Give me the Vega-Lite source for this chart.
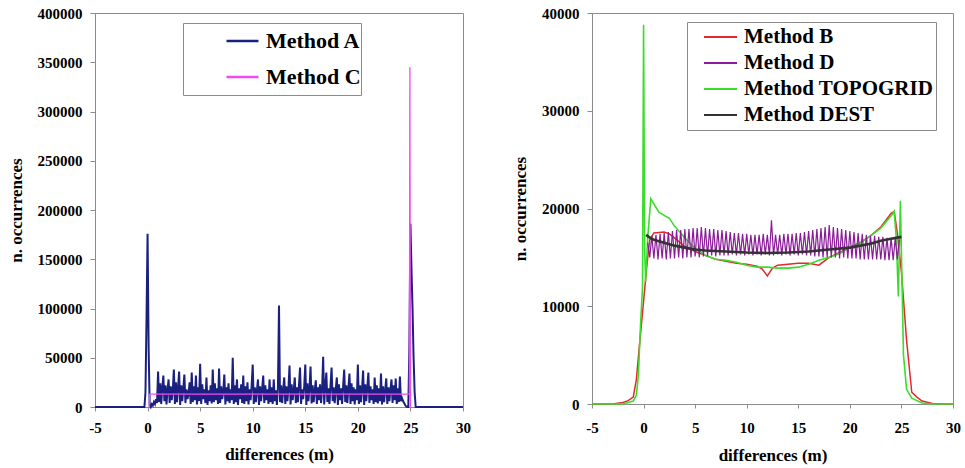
{
"$schema":"https://vega.github.io/schema/vega-lite/v6.json",
"padding":{"left":6,"top":5,"right":2,"bottom":3},
"background":"white",
"config":{"view":{"stroke":"#8c8c8c","strokeWidth":1},
"axis":{"grid":false,"labelFont":"Liberation Serif","labelFontWeight":"bold","labelFontSize":15,"labelColor":"#000","titleFont":"Liberation Serif","titleFontWeight":"bold","titleFontSize":17,"titleColor":"#000","domainColor":"#8c8c8c","tickColor":"#8c8c8c","labelFlush":false,"labelOverlap":false}},
"resolve":{"scale":{"color":"independent"},"legend":{"color":"independent"}},
"spacing":40,
"datasets":{
"pa":[
{"m":"A","x":-5,"y":0},{"m":"A","x":-0.3,"y":0},{"m":"A","x":-0.2,"y":15000},{"m":"A","x":-0.1,"y":90000},{"m":"A","x":0,"y":176000},{"m":"A","x":0.1,"y":60000},{"m":"A","x":0.2,"y":2000},{"m":"A","x":0.3,"y":0},{"m":"A","x":0.4,"y":3000},{"m":"A","x":0.5,"y":1500},{"m":"A","x":0.6,"y":5000},{"m":"A","x":0.7,"y":3000},{"m":"A","x":0.8,"y":8000},{"m":"A","x":0.9,"y":4000},
{"m":"A","x":1.0,"y":36000},{"m":"A","x":1.1,"y":5000},{"m":"A","x":1.2,"y":24000},{"m":"A","x":1.3,"y":3000},{"m":"A","x":1.4,"y":20000},{"m":"A","x":1.5,"y":32000},{"m":"A","x":1.6,"y":6000},{"m":"A","x":1.7,"y":22000},{"m":"A","x":1.8,"y":2500},{"m":"A","x":1.9,"y":18000},
{"m":"A","x":2.0,"y":28000},{"m":"A","x":2.1,"y":4000},{"m":"A","x":2.2,"y":21000},{"m":"A","x":2.3,"y":7000},{"m":"A","x":2.4,"y":17000},{"m":"A","x":2.5,"y":38000},{"m":"A","x":2.6,"y":3000},{"m":"A","x":2.7,"y":25000},{"m":"A","x":2.8,"y":5000},{"m":"A","x":2.9,"y":20000},
{"m":"A","x":3.0,"y":36000},{"m":"A","x":3.1,"y":2000},{"m":"A","x":3.2,"y":22000},{"m":"A","x":3.3,"y":6000},{"m":"A","x":3.4,"y":19000},{"m":"A","x":3.5,"y":33000},{"m":"A","x":3.6,"y":4000},{"m":"A","x":3.7,"y":18000},{"m":"A","x":3.8,"y":8000},{"m":"A","x":3.9,"y":14000},
{"m":"A","x":4.0,"y":25000},{"m":"A","x":4.1,"y":3000},{"m":"A","x":4.2,"y":35000},{"m":"A","x":4.3,"y":5000},{"m":"A","x":4.4,"y":21000},{"m":"A","x":4.5,"y":7000},{"m":"A","x":4.6,"y":32000},{"m":"A","x":4.7,"y":2500},{"m":"A","x":4.8,"y":20000},{"m":"A","x":4.9,"y":6000},
{"m":"A","x":5.0,"y":44000},{"m":"A","x":5.1,"y":3000},{"m":"A","x":5.2,"y":23000},{"m":"A","x":5.3,"y":8000},{"m":"A","x":5.4,"y":18000},{"m":"A","x":5.5,"y":4000},{"m":"A","x":5.6,"y":30000},{"m":"A","x":5.7,"y":2000},{"m":"A","x":5.8,"y":17000},{"m":"A","x":5.9,"y":6000},
{"m":"A","x":6.0,"y":22000},{"m":"A","x":6.1,"y":3500},{"m":"A","x":6.2,"y":38000},{"m":"A","x":6.3,"y":5000},{"m":"A","x":6.4,"y":24000},{"m":"A","x":6.5,"y":7000},{"m":"A","x":6.6,"y":19000},{"m":"A","x":6.7,"y":3000},{"m":"A","x":6.8,"y":39000},{"m":"A","x":6.9,"y":4000},
{"m":"A","x":7.0,"y":21000},{"m":"A","x":7.1,"y":8000},{"m":"A","x":7.2,"y":16000},{"m":"A","x":7.3,"y":33000},{"m":"A","x":7.4,"y":2500},{"m":"A","x":7.5,"y":20000},{"m":"A","x":7.6,"y":6000},{"m":"A","x":7.7,"y":24000},{"m":"A","x":7.8,"y":4000},{"m":"A","x":7.9,"y":18000},
{"m":"A","x":8.0,"y":7000},{"m":"A","x":8.1,"y":50000},{"m":"A","x":8.2,"y":3000},{"m":"A","x":8.3,"y":22000},{"m":"A","x":8.4,"y":5000},{"m":"A","x":8.5,"y":28000},{"m":"A","x":8.6,"y":2000},{"m":"A","x":8.7,"y":19000},{"m":"A","x":8.8,"y":8000},{"m":"A","x":8.9,"y":23000},
{"m":"A","x":9.0,"y":4000},{"m":"A","x":9.1,"y":32000},{"m":"A","x":9.2,"y":3000},{"m":"A","x":9.3,"y":21000},{"m":"A","x":9.4,"y":6000},{"m":"A","x":9.5,"y":25000},{"m":"A","x":9.6,"y":2500},{"m":"A","x":9.7,"y":18000},{"m":"A","x":9.8,"y":7000},{"m":"A","x":9.9,"y":22000},
{"m":"A","x":10.0,"y":43000},{"m":"A","x":10.1,"y":3000},{"m":"A","x":10.2,"y":20000},{"m":"A","x":10.3,"y":5000},{"m":"A","x":10.4,"y":17000},{"m":"A","x":10.5,"y":28000},{"m":"A","x":10.6,"y":2000},{"m":"A","x":10.7,"y":21000},{"m":"A","x":10.8,"y":6000},{"m":"A","x":10.9,"y":19000},
{"m":"A","x":11.0,"y":32000},{"m":"A","x":11.1,"y":4000},{"m":"A","x":11.2,"y":22000},{"m":"A","x":11.3,"y":7000},{"m":"A","x":11.4,"y":18000},{"m":"A","x":11.5,"y":3000},{"m":"A","x":11.6,"y":28000},{"m":"A","x":11.7,"y":5000},{"m":"A","x":11.8,"y":20000},{"m":"A","x":11.9,"y":3000},
{"m":"A","x":12.0,"y":28000},{"m":"A","x":12.1,"y":6000},{"m":"A","x":12.2,"y":17000},{"m":"A","x":12.3,"y":2000},{"m":"A","x":12.4,"y":20000},{"m":"A","x":12.5,"y":103000},{"m":"A","x":12.6,"y":5000},{"m":"A","x":12.7,"y":22000},{"m":"A","x":12.8,"y":4000},{"m":"A","x":12.9,"y":18000},
{"m":"A","x":13.0,"y":30000},{"m":"A","x":13.1,"y":3000},{"m":"A","x":13.2,"y":21000},{"m":"A","x":13.3,"y":6000},{"m":"A","x":13.4,"y":19000},{"m":"A","x":13.5,"y":42000},{"m":"A","x":13.6,"y":2500},{"m":"A","x":13.7,"y":23000},{"m":"A","x":13.8,"y":7000},{"m":"A","x":13.9,"y":17000},
{"m":"A","x":14.0,"y":30000},{"m":"A","x":14.1,"y":4000},{"m":"A","x":14.2,"y":20000},{"m":"A","x":14.3,"y":5000},{"m":"A","x":14.4,"y":22000},{"m":"A","x":14.5,"y":40000},{"m":"A","x":14.6,"y":3000},{"m":"A","x":14.7,"y":18000},{"m":"A","x":14.8,"y":8000},{"m":"A","x":14.9,"y":21000},
{"m":"A","x":15.0,"y":43000},{"m":"A","x":15.1,"y":2000},{"m":"A","x":15.2,"y":24000},{"m":"A","x":15.3,"y":6000},{"m":"A","x":15.4,"y":19000},{"m":"A","x":15.5,"y":41000},{"m":"A","x":15.6,"y":3500},{"m":"A","x":15.7,"y":22000},{"m":"A","x":15.8,"y":5000},{"m":"A","x":15.9,"y":17000},
{"m":"A","x":16.0,"y":27000},{"m":"A","x":16.1,"y":3000},{"m":"A","x":16.2,"y":20000},{"m":"A","x":16.3,"y":7000},{"m":"A","x":16.4,"y":23000},{"m":"A","x":16.5,"y":4000},{"m":"A","x":16.6,"y":18000},{"m":"A","x":16.7,"y":51000},{"m":"A","x":16.8,"y":2500},{"m":"A","x":16.9,"y":21000},
{"m":"A","x":17.0,"y":35000},{"m":"A","x":17.1,"y":5000},{"m":"A","x":17.2,"y":19000},{"m":"A","x":17.3,"y":3000},{"m":"A","x":17.4,"y":22000},{"m":"A","x":17.5,"y":40000},{"m":"A","x":17.6,"y":6000},{"m":"A","x":17.7,"y":20000},{"m":"A","x":17.8,"y":4000},{"m":"A","x":17.9,"y":18000},
{"m":"A","x":18.0,"y":30000},{"m":"A","x":18.1,"y":2000},{"m":"A","x":18.2,"y":23000},{"m":"A","x":18.3,"y":7000},{"m":"A","x":18.4,"y":19000},{"m":"A","x":18.5,"y":3000},{"m":"A","x":18.6,"y":21000},{"m":"A","x":18.7,"y":38000},{"m":"A","x":18.8,"y":5000},{"m":"A","x":18.9,"y":22000},
{"m":"A","x":19.0,"y":4000},{"m":"A","x":19.1,"y":19000},{"m":"A","x":19.2,"y":34000},{"m":"A","x":19.3,"y":3000},{"m":"A","x":19.4,"y":24000},{"m":"A","x":19.5,"y":6000},{"m":"A","x":19.6,"y":20000},{"m":"A","x":19.7,"y":2500},{"m":"A","x":19.8,"y":18000},{"m":"A","x":19.9,"y":7000},
{"m":"A","x":20.0,"y":43000},{"m":"A","x":20.1,"y":3000},{"m":"A","x":20.2,"y":22000},{"m":"A","x":20.3,"y":5000},{"m":"A","x":20.4,"y":19000},{"m":"A","x":20.5,"y":37000},{"m":"A","x":20.6,"y":2000},{"m":"A","x":20.7,"y":23000},{"m":"A","x":20.8,"y":6000},{"m":"A","x":20.9,"y":20000},
{"m":"A","x":21.0,"y":35000},{"m":"A","x":21.1,"y":4000},{"m":"A","x":21.2,"y":21000},{"m":"A","x":21.3,"y":7000},{"m":"A","x":21.4,"y":18000},{"m":"A","x":21.5,"y":3000},{"m":"A","x":21.6,"y":30000},{"m":"A","x":21.7,"y":5000},{"m":"A","x":21.8,"y":22000},{"m":"A","x":21.9,"y":3500},
{"m":"A","x":22.0,"y":19000},{"m":"A","x":22.1,"y":6000},{"m":"A","x":22.2,"y":34000},{"m":"A","x":22.3,"y":2500},{"m":"A","x":22.4,"y":21000},{"m":"A","x":22.5,"y":5000},{"m":"A","x":22.6,"y":17000},{"m":"A","x":22.7,"y":29000},{"m":"A","x":22.8,"y":3000},{"m":"A","x":22.9,"y":20000},
{"m":"A","x":23.0,"y":6000},{"m":"A","x":23.1,"y":18000},{"m":"A","x":23.2,"y":28000},{"m":"A","x":23.3,"y":4000},{"m":"A","x":23.4,"y":22000},{"m":"A","x":23.5,"y":7000},{"m":"A","x":23.6,"y":29000},{"m":"A","x":23.7,"y":3000},{"m":"A","x":23.8,"y":19000},{"m":"A","x":23.9,"y":5000},
{"m":"A","x":24.0,"y":31000},{"m":"A","x":24.1,"y":6000},{"m":"A","x":24.2,"y":9000},{"m":"A","x":24.3,"y":6000},{"m":"A","x":24.4,"y":4000},{"m":"A","x":24.5,"y":2000},{"m":"A","x":24.6,"y":500},{"m":"A","x":24.7,"y":0},{"m":"A","x":24.8,"y":0},{"m":"A","x":24.9,"y":60000},
{"m":"A","x":25.0,"y":186000},{"m":"A","x":25.1,"y":140000},{"m":"A","x":25.2,"y":100000},{"m":"A","x":25.3,"y":50000},{"m":"A","x":25.4,"y":15000},{"m":"A","x":25.5,"y":0},{"m":"A","x":30,"y":0},
{"m":"C","x":0.15,"y":0},{"m":"C","x":0.2,"y":13000},{"m":"C","x":12,"y":13000},{"m":"C","x":24.9,"y":13000},{"m":"C","x":24.95,"y":345000},{"m":"C","x":25.0,"y":0}
],
"pb":[
{"m":"B","x":-5,"y":0},{"m":"B","x":-3,"y":0},{"m":"B","x":-2,"y":150},{"m":"B","x":-1.5,"y":350},{"m":"B","x":-1,"y":700},{"m":"B","x":-0.7,"y":2500},{"m":"B","x":-0.4,"y":6000},{"m":"B","x":0,"y":10500},{"m":"B","x":0.3,"y":14000},{"m":"B","x":0.6,"y":16800},{"m":"B","x":1,"y":17500},{"m":"B","x":2,"y":17600},{"m":"B","x":2.5,"y":17400},{"m":"B","x":3,"y":17000},{"m":"B","x":4,"y":16100},{"m":"B","x":5,"y":15600},{"m":"B","x":6,"y":15200},{"m":"B","x":7,"y":14800},{"m":"B","x":8,"y":14600},{"m":"B","x":9,"y":14400},{"m":"B","x":10,"y":14300},{"m":"B","x":11,"y":14100},{"m":"B","x":11.5,"y":13800},{"m":"B","x":12,"y":13100},{"m":"B","x":12.5,"y":13900},{"m":"B","x":13,"y":14200},{"m":"B","x":14,"y":14300},{"m":"B","x":15,"y":14400},{"m":"B","x":16,"y":14400},{"m":"B","x":17,"y":14200},{"m":"B","x":18,"y":15000},{"m":"B","x":19,"y":15500},{"m":"B","x":20,"y":16000},{"m":"B","x":21,"y":16500},{"m":"B","x":22,"y":17200},{"m":"B","x":23,"y":18100},{"m":"B","x":24,"y":19500},{"m":"B","x":24.3,"y":19700},{"m":"B","x":24.6,"y":17500},{"m":"B","x":25,"y":13500},{"m":"B","x":25.5,"y":6500},{"m":"B","x":26,"y":1200},{"m":"B","x":26.5,"y":700},{"m":"B","x":27,"y":300},{"m":"B","x":28,"y":60},{"m":"B","x":29,"y":0},{"m":"B","x":30,"y":0},
{"m":"TOPOGRID","x":-5,"y":0},{"m":"TOPOGRID","x":-2,"y":0},{"m":"TOPOGRID","x":-1,"y":300},{"m":"TOPOGRID","x":-0.7,"y":900},{"m":"TOPOGRID","x":-0.5,"y":3000},{"m":"TOPOGRID","x":-0.3,"y":8000},{"m":"TOPOGRID","x":-0.1,"y":12000},{"m":"TOPOGRID","x":0,"y":38800},{"m":"TOPOGRID","x":0.1,"y":16000},{"m":"TOPOGRID","x":0.2,"y":12500},{"m":"TOPOGRID","x":0.4,"y":17000},{"m":"TOPOGRID","x":0.7,"y":21000},{"m":"TOPOGRID","x":1.5,"y":19600},{"m":"TOPOGRID","x":2.5,"y":19000},{"m":"TOPOGRID","x":3,"y":18200},{"m":"TOPOGRID","x":4,"y":17000},{"m":"TOPOGRID","x":5,"y":15900},{"m":"TOPOGRID","x":6,"y":15200},{"m":"TOPOGRID","x":7,"y":14800},{"m":"TOPOGRID","x":8,"y":14700},{"m":"TOPOGRID","x":9,"y":14500},{"m":"TOPOGRID","x":10,"y":14200},{"m":"TOPOGRID","x":11,"y":14000},{"m":"TOPOGRID","x":12,"y":14000},{"m":"TOPOGRID","x":13,"y":13900},{"m":"TOPOGRID","x":14,"y":13900},{"m":"TOPOGRID","x":15,"y":14000},{"m":"TOPOGRID","x":16,"y":14300},{"m":"TOPOGRID","x":17,"y":14700},{"m":"TOPOGRID","x":18,"y":15000},{"m":"TOPOGRID","x":19,"y":15400},{"m":"TOPOGRID","x":20,"y":16000},{"m":"TOPOGRID","x":21,"y":16500},{"m":"TOPOGRID","x":22,"y":17200},{"m":"TOPOGRID","x":23,"y":18000},{"m":"TOPOGRID","x":24.2,"y":19500},{"m":"TOPOGRID","x":24.3,"y":19700},{"m":"TOPOGRID","x":24.5,"y":17000},{"m":"TOPOGRID","x":24.7,"y":11000},{"m":"TOPOGRID","x":24.9,"y":20800},{"m":"TOPOGRID","x":25.2,"y":5000},{"m":"TOPOGRID","x":25.5,"y":1500},{"m":"TOPOGRID","x":26,"y":600},{"m":"TOPOGRID","x":27,"y":100},{"m":"TOPOGRID","x":28,"y":0},{"m":"TOPOGRID","x":30,"y":0},
{"m":"D","x":0.4,"y":16500},{"m":"D","x":0.6,"y":15000},{"m":"D","x":0.8,"y":17200},{"m":"D","x":1.0,"y":14900},{"m":"D","x":1.2,"y":17300},{"m":"D","x":1.4,"y":14800},{"m":"D","x":1.6,"y":17400},{"m":"D","x":1.8,"y":14900},{"m":"D","x":2.0,"y":17500},{"m":"D","x":2.2,"y":14800},{"m":"D","x":2.4,"y":17600},{"m":"D","x":2.6,"y":14900},{"m":"D","x":2.8,"y":17700},{"m":"D","x":3.0,"y":14900},{"m":"D","x":3.2,"y":17800},{"m":"D","x":3.4,"y":15000},{"m":"D","x":3.6,"y":17800},{"m":"D","x":3.8,"y":14900},{"m":"D","x":4.0,"y":17900},{"m":"D","x":4.2,"y":15000},{"m":"D","x":4.4,"y":17900},{"m":"D","x":4.6,"y":15000},{"m":"D","x":4.8,"y":18000},{"m":"D","x":5.0,"y":15100},{"m":"D","x":5.2,"y":18000},{"m":"D","x":5.4,"y":15000},{"m":"D","x":5.6,"y":18100},{"m":"D","x":5.8,"y":15100},{"m":"D","x":6.0,"y":18000},{"m":"D","x":6.2,"y":15100},{"m":"D","x":6.4,"y":17900},{"m":"D","x":6.6,"y":15200},{"m":"D","x":6.8,"y":17900},{"m":"D","x":7.0,"y":15100},{"m":"D","x":7.2,"y":17800},{"m":"D","x":7.4,"y":15200},{"m":"D","x":7.6,"y":17800},{"m":"D","x":7.8,"y":15200},{"m":"D","x":8.0,"y":17700},{"m":"D","x":8.2,"y":15200},{"m":"D","x":8.4,"y":17600},{"m":"D","x":8.6,"y":15300},{"m":"D","x":8.8,"y":17500},{"m":"D","x":9.0,"y":15200},{"m":"D","x":9.2,"y":17500},{"m":"D","x":9.4,"y":15300},{"m":"D","x":9.6,"y":17400},{"m":"D","x":9.8,"y":15200},{"m":"D","x":10.0,"y":17400},{"m":"D","x":10.2,"y":15300},{"m":"D","x":10.4,"y":17300},{"m":"D","x":10.6,"y":15200},{"m":"D","x":10.8,"y":17300},{"m":"D","x":11.0,"y":15300},{"m":"D","x":11.2,"y":17300},{"m":"D","x":11.4,"y":15200},{"m":"D","x":11.6,"y":17400},{"m":"D","x":11.8,"y":15300},{"m":"D","x":12.0,"y":17300},{"m":"D","x":12.2,"y":15200},{"m":"D","x":12.4,"y":18800},{"m":"D","x":12.6,"y":15200},{"m":"D","x":12.8,"y":17300},{"m":"D","x":13.0,"y":15300},{"m":"D","x":13.2,"y":17300},{"m":"D","x":13.4,"y":15200},{"m":"D","x":13.6,"y":17400},{"m":"D","x":13.8,"y":15300},{"m":"D","x":14.0,"y":17400},{"m":"D","x":14.2,"y":15200},{"m":"D","x":14.4,"y":17400},{"m":"D","x":14.6,"y":15300},{"m":"D","x":14.8,"y":17500},{"m":"D","x":15.0,"y":15200},{"m":"D","x":15.2,"y":17500},{"m":"D","x":15.4,"y":15300},{"m":"D","x":15.6,"y":17600},{"m":"D","x":15.8,"y":15200},{"m":"D","x":16.0,"y":17700},{"m":"D","x":16.2,"y":15200},{"m":"D","x":16.4,"y":17800},{"m":"D","x":16.6,"y":15100},{"m":"D","x":16.8,"y":17900},{"m":"D","x":17.0,"y":15100},{"m":"D","x":17.2,"y":18000},{"m":"D","x":17.4,"y":15000},{"m":"D","x":17.6,"y":18100},{"m":"D","x":17.8,"y":15000},{"m":"D","x":18.0,"y":18300},{"m":"D","x":18.2,"y":15000},{"m":"D","x":18.4,"y":18100},{"m":"D","x":18.6,"y":15000},{"m":"D","x":18.8,"y":18000},{"m":"D","x":19.0,"y":14900},{"m":"D","x":19.2,"y":17900},{"m":"D","x":19.4,"y":15000},{"m":"D","x":19.6,"y":17800},{"m":"D","x":19.8,"y":14900},{"m":"D","x":20.0,"y":17700},{"m":"D","x":20.2,"y":14900},{"m":"D","x":20.4,"y":17600},{"m":"D","x":20.6,"y":14900},{"m":"D","x":20.8,"y":17500},{"m":"D","x":21.0,"y":14800},{"m":"D","x":21.2,"y":17400},{"m":"D","x":21.4,"y":14800},{"m":"D","x":21.6,"y":17300},{"m":"D","x":21.8,"y":14800},{"m":"D","x":22.0,"y":17200},{"m":"D","x":22.2,"y":14800},{"m":"D","x":22.4,"y":17200},{"m":"D","x":22.6,"y":14800},{"m":"D","x":22.8,"y":17100},{"m":"D","x":23.0,"y":14800},{"m":"D","x":23.2,"y":17100},{"m":"D","x":23.4,"y":14700},{"m":"D","x":23.6,"y":17000},{"m":"D","x":23.8,"y":14700},{"m":"D","x":24.0,"y":17000},{"m":"D","x":24.2,"y":14700},{"m":"D","x":24.4,"y":17000},{"m":"D","x":24.6,"y":14800},{"m":"D","x":24.8,"y":16800},
{"m":"DEST","x":0.25,"y":17300},{"m":"DEST","x":0.5,"y":17100},{"m":"DEST","x":1,"y":16800},{"m":"DEST","x":2,"y":16500},{"m":"DEST","x":3,"y":16200},{"m":"DEST","x":4,"y":16000},{"m":"DEST","x":5,"y":15800},{"m":"DEST","x":6,"y":15700},{"m":"DEST","x":8,"y":15600},{"m":"DEST","x":10,"y":15500},{"m":"DEST","x":12,"y":15450},{"m":"DEST","x":14,"y":15500},{"m":"DEST","x":16,"y":15600},{"m":"DEST","x":18,"y":15800},{"m":"DEST","x":20,"y":16000},{"m":"DEST","x":22,"y":16400},{"m":"DEST","x":23,"y":16700},{"m":"DEST","x":24,"y":16900},{"m":"DEST","x":25,"y":17100}
]},
"hconcat":[
{"width":368,"height":394,
"data":{"name":"pa"},
"encoding":{
"x":{"field":"x","type":"quantitative","scale":{"domain":[-5,30],"nice":false,"zero":false},"axis":{"values":[-5,0,5,10,15,20,25,30],"labelExpr":"'' + datum.value","title":"differences (m)","tickSize":4,"labelPadding":9,"titlePadding":11}},
"y":{"field":"y","type":"quantitative","scale":{"domain":[0,400000],"nice":false},"axis":{"values":[0,50000,100000,150000,200000,250000,300000,350000,400000],"format":"d","title":"n. occurrences","tickSize":5,"labelPadding":8,"titlePadding":12}},
"color":{"field":"m","type":"nominal","scale":{"domain":["A","C"],"range":["#1a2080","#f24af2"]},
"legend":{"title":null,"orient":"none","legendX":88,"legendY":10,"direction":"vertical","strokeColor":"#8c8c8c","fillColor":"white","padding":0,"symbolType":"stroke","symbolSize":1024,"symbolStrokeWidth":2.5,"symbolOffset":42,"clipHeight":36,"labelOffset":6,"labelFont":"Liberation Serif","labelFontWeight":"bold","labelFontSize":22,"labelColor":"#000","rowPadding":0,"labelLimit":400,"labelExpr":"'Method ' + datum.label + '\u2003\u2002'"}}},
"layer":[
{"transform":[{"filter":"datum.m === 'A'"}],"mark":{"type":"line","strokeWidth":2,"strokeJoin":"miter"}},
{"transform":[{"filter":"datum.m === 'C'"}],"mark":{"type":"line","strokeWidth":1.3}},
{"data":{"values":[{"t":"a"}]},"mark":{"type":"text","font":"Liberation Sans","fontWeight":"bold","fontSize":21,"align":"center","baseline":"middle"},"encoding":{"x":{"datum":-3.85},"y":{"datum":381000},"text":{"field":"t"},"color":{"value":"#000"}}}
]},
{"width":361,"height":391,
"data":{"name":"pb"},
"encoding":{
"x":{"field":"x","type":"quantitative","scale":{"domain":[-5,30],"nice":false,"zero":false},"axis":{"values":[-5,0,5,10,15,20,25,30],"labelExpr":"'' + datum.value","title":"differences (m)","tickSize":4,"labelPadding":12,"titlePadding":12}},
"y":{"field":"y","type":"quantitative","scale":{"domain":[0,40000],"nice":false},"axis":{"values":[0,10000,20000,30000,40000],"format":"d","title":"n. occurrences","tickSize":5,"labelPadding":8,"titlePadding":12}},
"color":{"field":"m","type":"nominal","scale":{"domain":["B","D","TOPOGRID","DEST"],"range":["#e4282c","#8a1c98","#3cdc2c","#333333"]},
"legend":{"title":null,"orient":"none","legendX":95,"legendY":9,"direction":"vertical","strokeColor":"#8c8c8c","fillColor":"white","padding":2,"symbolType":"stroke","symbolSize":1089,"symbolStrokeWidth":2,"symbolOffset":14,"clipHeight":26,"labelOffset":6,"labelFont":"Liberation Serif","labelFontWeight":"bold","labelFontSize":21,"labelColor":"#000","rowPadding":0,"labelLimit":400,"labelExpr":"'Method ' + datum.label + '\u00a0'"}}},
"layer":[
{"transform":[{"filter":"datum.m === 'B'"}],"mark":{"type":"line","strokeWidth":1.5}},
{"transform":[{"filter":"datum.m === 'TOPOGRID'"}],"mark":{"type":"line","strokeWidth":1.6}},
{"transform":[{"filter":"datum.m === 'D'"}],"mark":{"type":"line","strokeWidth":1.2}},
{"transform":[{"filter":"datum.m === 'DEST'"}],"mark":{"type":"line","strokeWidth":2.6}},
{"data":{"values":[{"t":"b"}]},"mark":{"type":"text","font":"Liberation Sans","fontWeight":"bold","fontSize":19,"align":"center","baseline":"middle"},"encoding":{"x":{"datum":-3.45},"y":{"datum":37500},"text":{"field":"t"},"color":{"value":"#000"}}}
]}
]
}
